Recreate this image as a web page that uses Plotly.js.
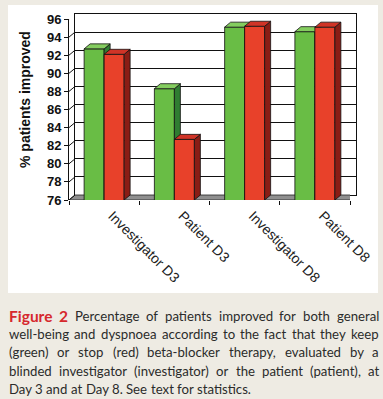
<!DOCTYPE html>
<html><head><meta charset="utf-8">
<script src="https://cdn.plot.ly/plotly-3.0.1.min.js"></script>
<style>html,body{margin:0;padding:0;background:#eeebe3;} #chart{width:383px;height:399px;}</style>
</head><body><div id="chart"></div>
<script>
// ---- data ----
const categories = ["Investigator D3", "Patient D3", "Investigator D8", "Patient D8"];
const keepValues = [92.7, 88.3, 95.1, 94.6];   // green: keep beta-blocker
const stopValues = [92.1, 82.7, 95.2, 95.1];   // red: stop beta-blocker
const yTicks = [76, 78, 80, 82, 84, 86, 88, 90, 92, 94, 96];
const yTitle = "% patients improved";
const captionLines = [
  "Figure 2 Percentage of patients improved for both general",
  "well-being and dyspnoea according to the fact that they keep",
  "(green) or stop (red) beta-blocker therapy, evaluated by a",
  "blinded investigator (investigator) or the patient (patient), at",
  "Day 3 and at Day 8. See text for statistics."
];

// ---- geometry (px) ----
const W = 383, H = 399, ML = 69, MR = 27, MT = 14, MB = 199;
const plotW = W - ML - MR, plotH = H - MT - MB;
const DX = 6, DY = 5;                 // 3D depth in px
const frontW = plotW - DX, frontH = plotH - DY;
const nCat = categories.length;
const yMin = yTicks[0], yMax = yTicks[yTicks.length - 1];
const xRange = [-0.5, nCat - 0.5];
const dxu = DX * nCat / frontW;
const dyu = DY * (yMax - yMin) / frontH;
const barW = 20 * nCat / frontW;
const px2x = px => (px - ML) / plotW;
const px2y = py => (H - MB - py) / plotH;

const catIdx = categories.map((c, i) => i);
const catEdges = [-0.5].concat(catIdx.map(i => i + 0.5));

function faces(vals, offset) {
  const top = {x: [], y: []}, side = {x: [], y: []};
  vals.forEach((v, i) => {
    const l = i + offset, r = l + barW;
    top.x.push(l, r, r + dxu, l + dxu, l, null);
    top.y.push(v, v, v + dyu, v + dyu, v, null);
    side.x.push(r, r, r + dxu, r + dxu, r, null);
    side.y.push(yMin, v, v + dyu, yMin + dyu, yMin, null);
  });
  return {top, side};
}
const gF = faces(keepValues, -barW);
const rF = faces(stopValues, 0);

const outline = {color: '#111', width: 0.8};
const G = {front: '#69bd45', top: '#84cd5f', side: '#2f7d31'};
const R = {front: '#e8412a', top: '#d03427', side: '#8a1d15'};

function poly(f, color, xa, ya) {
  return {type: 'scatter', mode: 'lines', x: f.x, y: f.y, fill: 'toself', fillcolor: color,
          line: outline, xaxis: xa, yaxis: ya, hoverinfo: 'skip', showlegend: false};
}

const traces = [
  {type: 'scatter', x: [], y: [], xaxis: 'x', yaxis: 'y', showlegend: false, hoverinfo: 'skip'},
  {type: 'bar', x: catIdx, y: keepValues, width: barW, offset: -barW, xaxis: 'x2', yaxis: 'y2',
   marker: {color: G.front, line: outline}, showlegend: false},
  poly(gF.side, G.side, 'x2', 'y2'),
  poly(gF.top, G.top, 'x2', 'y2'),
  {type: 'bar', x: catIdx, y: stopValues, width: barW, offset: 0, xaxis: 'x3', yaxis: 'y3',
   marker: {color: R.front, line: outline}, showlegend: false},
  poly(rF.side, R.side, 'x3', 'y3'),
  poly(rF.top, R.top, 'x3', 'y3')
];

const shapes = [
  {type: 'rect', xref: 'paper', yref: 'paper', x0: px2x(8), x1: px2x(378), y0: px2y(293), y1: px2y(5),
   fillcolor: '#ffffff', line: {width: 0}, layer: 'below'},
  {type: 'path', xref: 'x2', yref: 'y2', layer: 'between',
   path: `M ${xRange[0]},${yMin} L ${xRange[1]},${yMin} L ${xRange[1] + dxu},${yMin + dyu} L ${xRange[0] + dxu},${yMin + dyu} Z`,
   fillcolor: '#8f8f8f', line: {color: '#222', width: 0.8}}
];
yTicks.forEach(t => {
  shapes.push({type: 'line', xref: 'x2', yref: 'y2', layer: 'between',
    x0: xRange[0], y0: t, x1: xRange[0] + dxu, y1: t + dyu, line: {color: '#111', width: 1}});
});

const annotations = [
  {xref: 'paper', yref: 'paper', x: px2x(25), y: px2y(100), text: yTitle, textangle: -90,
   showarrow: false, xanchor: 'center', yanchor: 'middle',
   font: {family: 'Liberation Sans, Arial, sans-serif', size: 14, weight: 'bold', color: '#111'}}
];

// caption, justified word by word
const capFont = 'Lato';
const ctx = document.createElement('canvas').getContext('2d');
function tw(text, size, weight) { ctx.font = `${weight} ${size}px ${capFont}`; return ctx.measureText(text).width; }
const capLeft = 8, capRight = 378, lineY0 = 316, lineStep = 18.2;
const bodySize = 13.2, figSize = 15.5;
captionLines.forEach((line, li) => {
  const words = line.split(' ');
  const toks = words.map((w, wi) => {
    const isFig = li === 0 && wi < 2;
    const size = isFig ? figSize : bodySize, weight = isFig ? 'bold' : 'normal';
    return {w, size, weight, color: isFig ? '#d6282d' : '#2b2b2b', width: tw(w, size, weight)};
  });
  const total = toks.reduce((s, t) => s + t.width, 0);
  const last = li === captionLines.length - 1;
  const gap = last ? tw(' ', bodySize, 'normal') : (capRight - capLeft - total) / (toks.length - 1);
  let x = capLeft;
  const yc = lineY0 + li * lineStep;
  toks.forEach(t => {
    annotations.push({xref: 'paper', yref: 'paper', x: px2x(x), y: px2y(yc), xanchor: 'left', yanchor: 'middle',
      text: t.w, showarrow: false, borderpad: 0,
      font: {family: capFont, size: t.size, weight: t.weight, color: t.color}});
    x += t.width + gap;
  });
});

const layout = {
  width: W, height: H, margin: {l: ML, r: MR, t: MT, b: MB},
  paper_bgcolor: '#eeebe3', plot_bgcolor: 'rgba(0,0,0,0)', showlegend: false,
  font: {family: 'Liberation Sans, Arial, sans-serif', color: '#222'},
  xaxis: {domain: [DX / plotW, 1], range: xRange, anchor: 'y', showgrid: false, zeroline: false,
    showticklabels: false, ticks: '', showline: true, mirror: true, linecolor: '#111', linewidth: 1},
  yaxis: {domain: [DY / plotH, 1], range: [yMin, yMax], anchor: 'x', tickvals: yTicks, showgrid: true,
    gridcolor: '#111', gridwidth: 1, showticklabels: false, ticks: '', showline: true, mirror: true,
    linecolor: '#111', linewidth: 1, zeroline: false},
  xaxis2: {domain: [0, frontW / plotW], range: xRange, anchor: 'y2', tickvals: catIdx, ticktext: categories,
    tickangle: 45, ticks: '', showgrid: false, zeroline: false, showline: false,
    ticklabelshift: 8, ticklabelstandoff: 4,
    tickfont: {size: 14, color: '#222'},
    minor: {tickmode: 'array', tickvals: catEdges, ticks: 'outside', ticklen: 4,
            tickcolor: '#111', tickwidth: 1, showgrid: false}},
  yaxis2: {domain: [0, frontH / plotH], range: [yMin, yMax], anchor: 'x2', tickvals: yTicks,
    ticks: 'outside', ticklen: 4, tickcolor: '#111', tickwidth: 1, showline: true, linecolor: '#111',
    linewidth: 1, showgrid: false, zeroline: false,
    tickfont: {size: 13, weight: 'bold', color: '#111'}},
  xaxis3: {overlaying: 'x2', anchor: 'y3', range: xRange, visible: false},
  yaxis3: {overlaying: 'y2', anchor: 'x3', range: [yMin, yMax], visible: false},
  shapes, annotations
};

Plotly.newPlot('chart', traces, layout, {staticPlot: true, displayModeBar: false});
</script></body></html>
